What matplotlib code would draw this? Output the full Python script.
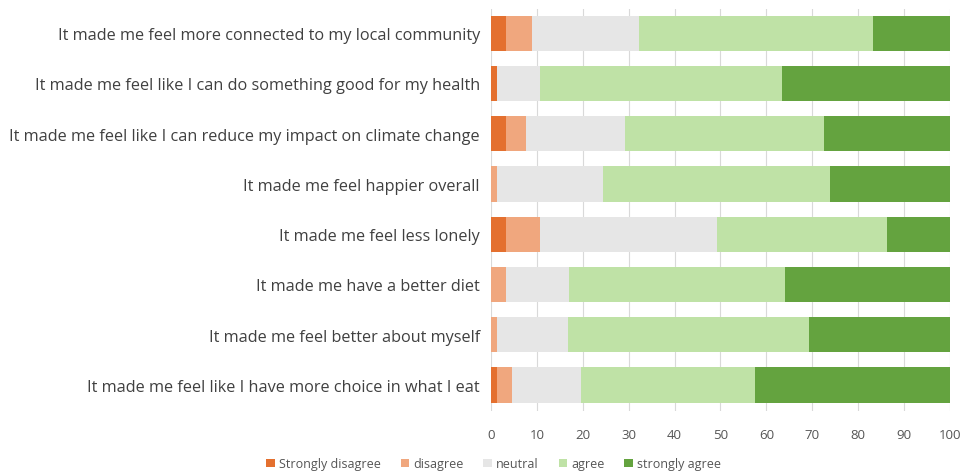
import numpy as np
import matplotlib
matplotlib.use("Agg")
import matplotlib.pyplot as plt

# Survey statements, top to bottom
statements = [
    "It made me feel more connected to my local community",
    "It made me feel like I can do something good for my health",
    "It made me feel like I can reduce my impact on climate change",
    "It made me feel happier overall",
    "It made me feel less lonely",
    "It made me have a better diet",
    "It made me feel better about myself",
    "It made me feel like I have more choice in what I eat",
]

# Percent of responses per answer
strongly_disagree = [3.2, 1.4, 3.2, 0.0, 3.2, 0.0, 0.0, 1.4]
disagree = [5.8, 0.0, 4.4, 1.4, 7.5, 3.2, 1.4, 3.2]
neutral = [23.2, 9.3, 21.5, 23.1, 38.5, 13.9, 15.4, 14.9]
agree = [51.1, 52.6, 43.4, 49.3, 37.1, 47.0, 52.5, 38.1]
strongly_agree = [16.7, 36.7, 27.5, 26.2, 13.7, 35.9, 30.7, 42.4]

answers = ["Strongly disagree", "disagree", "neutral", "agree", "strongly agree"]
colors = ["#E4702F", "#F0A77E", "#E6E6E6", "#BFE2A6", "#64A33F"]

plt.rcParams["font.family"] = ["Open Sans", "DejaVu Sans"]

fig = plt.figure(figsize=(9.62, 4.77), dpi=100)
ax = fig.add_axes([0.5104, 0.136, 0.4771, 0.843])

y = np.arange(len(statements))
left = np.zeros(len(statements))
for name, vals, col in zip(answers,
                           [strongly_disagree, disagree, neutral, agree, strongly_agree],
                           colors):
    vals = np.array(vals)
    ax.barh(y, vals, left=left, height=0.7, color=col, label=name, zorder=2)
    left += vals

ax.set_xlim(0, 100)
ax.set_ylim(7.52, -0.48)
ax.set_xticks(range(0, 101, 10))
ax.set_yticks(y)
ax.set_yticklabels(statements, fontsize=11.7, color="#404040")
ax.tick_params(axis="y", length=0, pad=8)
ax.tick_params(axis="x", length=0, labelsize=9.5, labelcolor="#555555", pad=12)
ax.grid(axis="x", color="#D9D9D9", linewidth=0.8, zorder=0)
for s in ax.spines.values():
    s.set_visible(False)

fig.legend(loc="lower center", bbox_to_anchor=(0.513, -0.012), ncol=5, frameon=False,
           fontsize=9, labelcolor="#555555", handlelength=0.7, handleheight=0.7,
           handletextpad=0.3, columnspacing=1.6)

fig.savefig("out.png", dpi=100)
